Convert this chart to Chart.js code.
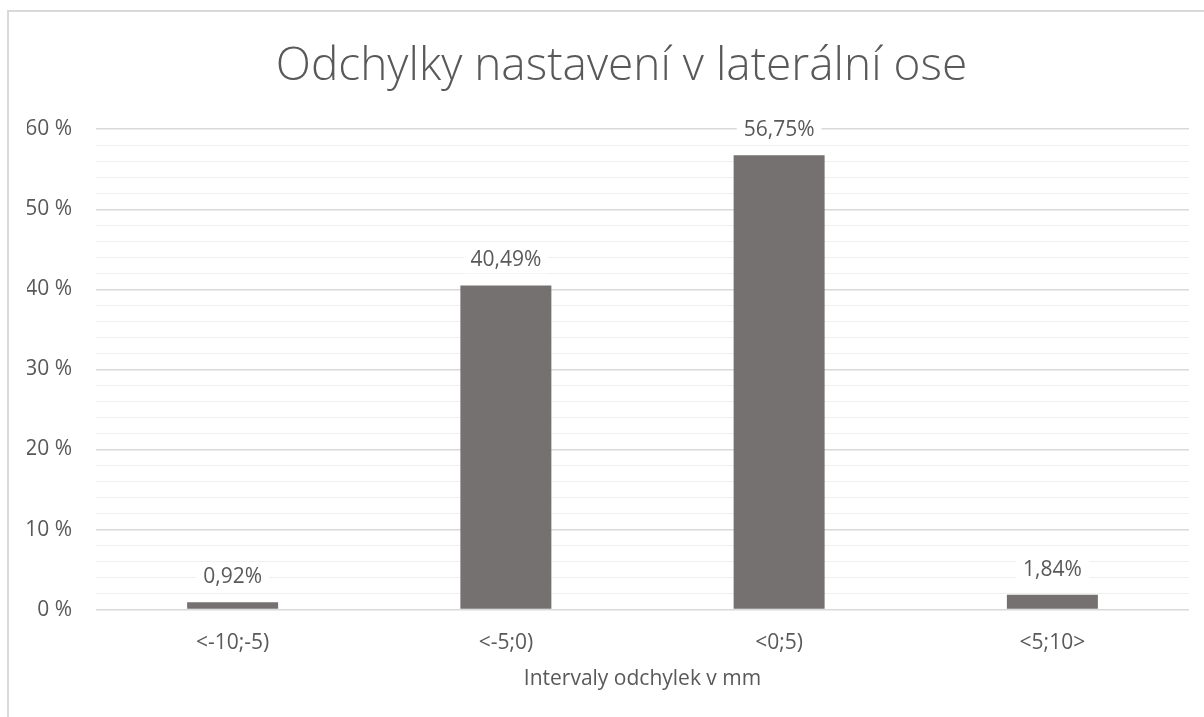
<!DOCTYPE html>
<html>
<head>
<meta charset="utf-8">
<script src="https://cdn.jsdelivr.net/npm/chart.js@4"></script>
<style>
  html, body { margin: 0; padding: 0; background: #fff; overflow: hidden; }
  #frame {
    position: absolute; left: 7px; top: 10px;
    width: 1240px; height: 740px;
    border-left: 2px solid #d9d9d9; border-top: 2px solid #d9d9d9;
  }
  #wrap { position: absolute; left: 1px; top: -1px; width: 1206px; height: 706px; }
</style>
</head>
<body>
<div id="frame"><div id="wrap"><canvas id="chart"></canvas></div></div>
<script>
const categories = ['<-10;-5)', '<-5;0)', '<0;5)', '<5;10>'];
const shares = [0.92, 40.49, 56.75, 1.84];
const yMax = 60;
const yStep = 2;

const TEXT = '#595959';
const FONT = '"Open Sans", "Noto Sans", sans-serif';

// value labels above bars, on a white box like Excel does
const barLabels = {
  id: 'barLabels',
  afterDatasetsDraw(chart) {
    const ctx = chart.ctx;
    const meta = chart.getDatasetMeta(0);
    ctx.save();
    ctx.font = '21px ' + FONT;
    ctx.textAlign = 'center';
    ctx.textBaseline = 'middle';
    meta.data.forEach((bar, i) => {
      const txt = shares[i].toFixed(2).replace('.', ',') + '%';
      const w = ctx.measureText(txt).width + 14;
      const cy = bar.y - 25;
      ctx.fillStyle = '#fff';
      ctx.fillRect(bar.x - w / 2, cy - 13, w, 26);
      ctx.fillStyle = TEXT;
      ctx.fillText(txt, bar.x, cy);
    });
    ctx.restore();
  }
};

new Chart(document.getElementById('chart'), {
  type: 'bar',
  data: {
    labels: categories,
    datasets: [{
      data: shares,
      backgroundColor: '#767171',
      categoryPercentage: 1,
      barPercentage: 0.333
    }]
  },
  options: {
    responsive: true,
    maintainAspectRatio: false,
    animation: false,
    layout: { padding: { left: 17, right: 0, top: 0, bottom: 25 } },
    plugins: {
      legend: { display: false },
      tooltip: { enabled: false },
      title: {
        display: true,
        text: 'Odchylky nastavení v laterální ose',
        color: TEXT,
        font: { family: FONT, size: 46, weight: '300' },
        padding: { top: 28, bottom: 35 }
      }
    },
    scales: {
      x: {
        grid: { display: false },
        border: { display: false },
        ticks: { color: TEXT, font: { family: FONT, size: 21 }, padding: 13 },
        title: {
          display: true,
          text: 'Intervaly odchylek v mm',
          color: TEXT,
          font: { family: FONT, size: 21 },
          padding: { top: -2, bottom: 0 }
        }
      },
      y: {
        min: 0,
        max: yMax,
        border: { display: false },
        grid: {
          drawTicks: false,
          color: c => (c.tick && c.tick.value % 10 === 0) ? '#d9d9d9' : '#efefef',
          lineWidth: c => (c.tick && c.tick.value % 10 === 0) ? 1.5 : 1
        },
        ticks: {
          stepSize: yStep,
          autoSkip: false,
          padding: 24,
          color: TEXT,
          font: { family: FONT, size: 21 },
          callback: v => (v % 10 === 0 ? v + ' %' : '')
        },
        afterFit(s) { s.width = 69; }
      },
      yPad: {
        position: 'right',
        min: 0,
        max: yMax,
        grid: { display: false, drawOnChartArea: false },
        border: { display: false },
        ticks: { display: false },
        afterFit(s) { s.width = 27; }
      }
    }
  },
  plugins: [barLabels]
});
</script>
</body>
</html>
